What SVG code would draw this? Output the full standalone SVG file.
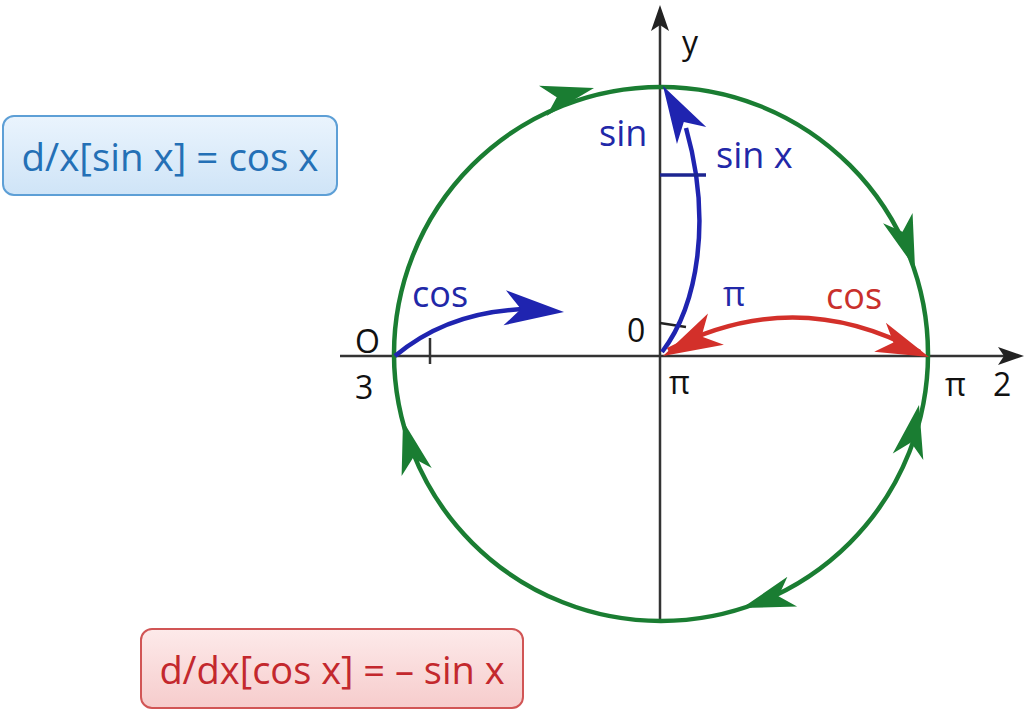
<svg xmlns="http://www.w3.org/2000/svg" width="1024" height="715" viewBox="0 0 1024 715">
<defs>
<linearGradient id="gb" x1="0" y1="0" x2="0" y2="1"><stop offset="0" stop-color="#eaf4fd"/><stop offset="1" stop-color="#cfe4f7"/></linearGradient>
<linearGradient id="gr" x1="0" y1="0" x2="0" y2="1"><stop offset="0" stop-color="#fdeaea"/><stop offset="1" stop-color="#f6cccc"/></linearGradient>
<path id="ah" d="M0,0 L-44,-13 L-32,0 L-44,13 Z"/>
<path id="axh" d="M0,0 L-26,-9 L-20,0 L-26,9 Z"/>
</defs>
<style>
text{font-family:"Open Sans","Noto Sans","Liberation Sans",sans-serif}
.ax{stroke:#333;stroke-width:2.5;fill:none}
.g{stroke:#1a7d32;stroke-width:4.5;fill:none}
.gf{fill:#1a7d32}
.b{stroke:#1f24b0;stroke-width:4.5;fill:none}
.bf{fill:#1f24b0}
.r{stroke:#d3302a;stroke-width:4.5;fill:none}
.rf{fill:#d3302a}
</style>
<rect width="1024" height="715" fill="#fff"/>
<g id="axes">
<line class="ax" x1="340" y1="356" x2="1010" y2="356"/>
<line class="ax" x1="660" y1="620" x2="660" y2="18"/>
<use href="#axh" transform="translate(1024,356)" fill="#222"/>
<use href="#axh" transform="translate(660,5) rotate(-90)" fill="#222"/>
<line class="ax" x1="430" y1="338" x2="430" y2="364"/>
<line x1="660" y1="323" x2="686" y2="327" stroke="#222" stroke-width="2.5"/>
</g>
<g id="circle">
<circle class="g" cx="661" cy="354" r="267"/>
</g>
<g id="connectors">
<g class="gf">
<use href="#ah" transform="translate(594,88) rotate(-14) scale(1.2)"/>
<use href="#ah" transform="translate(915,268) rotate(71) scale(1.2)"/>
<use href="#ah" transform="translate(919,405) rotate(-78) scale(1.2)"/>
<use href="#ah" transform="translate(742,608) rotate(162) scale(1.2)"/>
<use href="#ah" transform="translate(403,421) rotate(-105) scale(1.2)"/>
</g>
<path class="b" d="M662,352 C698,305 712,220 686,128"/>
<use class="bf" href="#ah" transform="translate(663,86) rotate(-120) scale(1.3)"/>
<line x1="660" y1="175" x2="706" y2="175" stroke="#1c2590" stroke-width="3.5"/>
<path class="b" d="M395,356 Q450,310 530,309"/>
<use class="bf" href="#ah" transform="translate(564,312) rotate(4) scale(1.35)"/>
<path class="r" d="M668,350 Q795,284 920,352"/>
<use class="rf" href="#ah" transform="translate(663,356) rotate(153) scale(1.35)"/>
<use class="rf" href="#ah" transform="translate(929,357) rotate(22) scale(1.2)"/>
</g>
<g id="labels">
<text x="682" y="54" font-size="32" fill="#111">y</text>
<text x="599" y="146" font-size="36" fill="#2228a8">sin</text>
<text x="716" y="168" font-size="36" fill="#2228a8">sin x</text>
<text x="723" y="306" font-size="34" fill="#2228a8">π</text>
<text x="826" y="309" font-size="36" fill="#c9302c">cos</text>
<text x="412" y="307" font-size="36" fill="#2228a8">cos</text>
<text x="627" y="342" font-size="32" fill="#111">0</text>
<text x="669" y="394" font-size="32" fill="#111">π</text>
<text x="945" y="396" font-size="32" fill="#111">π</text>
<text x="993" y="396" font-size="32" fill="#111">2</text>
<text x="355" y="353" font-size="32" fill="#111">O</text>
<text x="355" y="399" font-size="32" fill="#111">3</text>
</g>
<g id="box-sin">
<rect x="3" y="116" width="334" height="79" rx="11" fill="url(#gb)" stroke="#5d9fd6" stroke-width="2"/>
<text x="170" y="171" font-size="38.5" fill="#2470b6" text-anchor="middle">d/x[sin x] = cos x</text>
</g>
<g id="box-cos">
<rect x="141" y="629" width="382" height="79" rx="11" fill="url(#gr)" stroke="#d15555" stroke-width="2"/>
<text x="332" y="684" font-size="38" fill="#c3282d" text-anchor="middle">d/dx[cos x] = – sin x</text>
</g>
</svg>
